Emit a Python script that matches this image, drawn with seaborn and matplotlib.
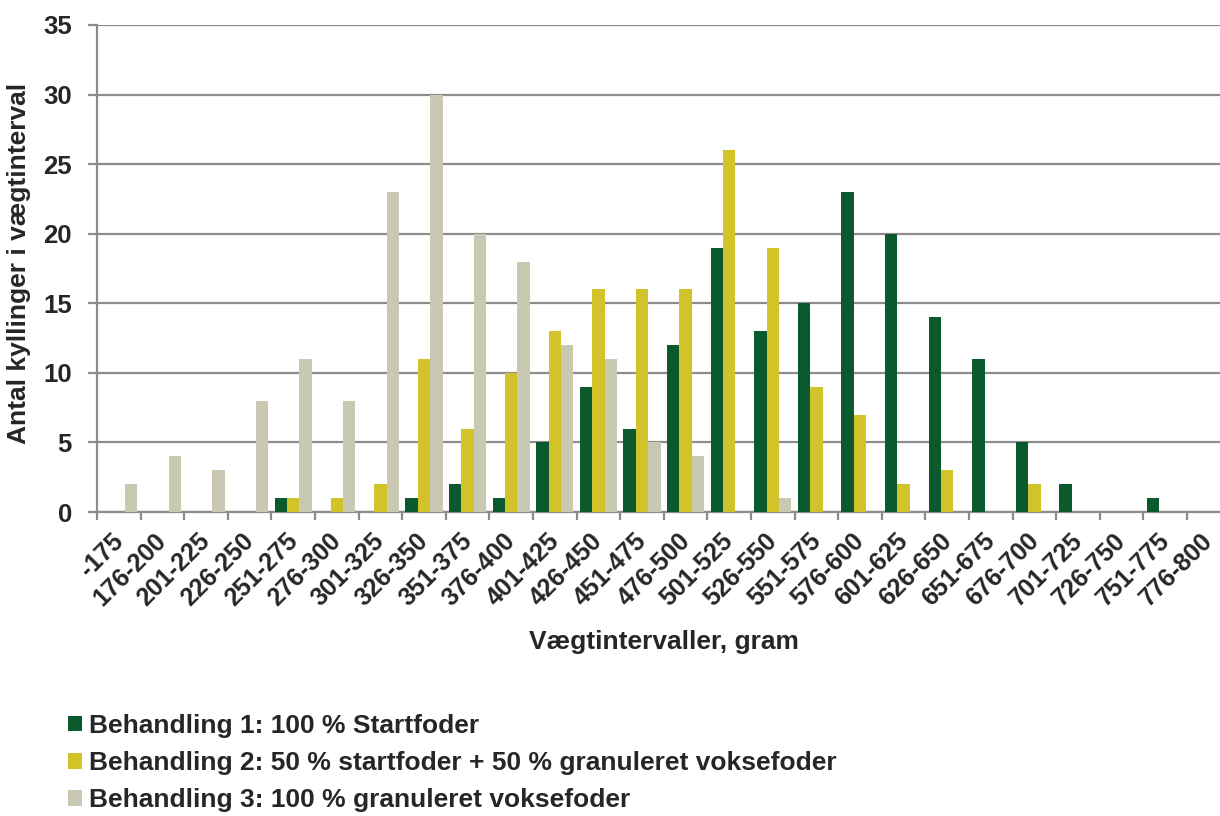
import matplotlib
matplotlib.use("Agg")
import matplotlib.pyplot as plt
import matplotlib.transforms as mtransforms
import seaborn as sns
import pandas as pd
from matplotlib.patches import Patch

# Weight intervals (gram)
intervals = ["-175", "176-200", "201-225", "226-250", "251-275", "276-300",
             "301-325", "326-350", "351-375", "376-400", "401-425", "426-450",
             "451-475", "476-500", "501-525", "526-550", "551-575", "576-600",
             "601-625", "626-650", "651-675", "676-700", "701-725", "726-750",
             "751-775", "776-800"]

# Number of chickens per interval for each treatment
behandling_1 = [0, 0, 0, 0, 1, 0, 0, 1, 2, 1, 5, 9, 6, 12, 19, 13, 15, 23,
                20, 14, 11, 5, 2, 0, 1, 0]
behandling_2 = [0, 0, 0, 0, 1, 1, 2, 11, 6, 10, 13, 16, 16, 16, 26, 19, 9, 7,
                2, 3, 0, 2, 0, 0, 0, 0]
behandling_3 = [2, 4, 3, 8, 11, 8, 23, 30, 20, 18, 12, 11, 5, 4, 0, 1, 0, 0,
                0, 0, 0, 0, 0, 0, 0, 0]

series_names = ["Behandling 1: 100 % Startfoder",
                "Behandling 2: 50 % startfoder + 50 % granuleret voksefoder",
                "Behandling 3: 100 % granuleret voksefoder"]
colors = ["#0b5a2e", "#d2c32a", "#c8c8b3"]

rows = []
for name, vals in zip(series_names, [behandling_1, behandling_2, behandling_3]):
    for iv, v in zip(intervals, vals):
        rows.append({"interval": iv, "antal": v, "behandling": name})
df = pd.DataFrame(rows)

sns.set_theme(style="white")
plt.rcParams["font.family"] = ["Liberation Sans", "DejaVu Sans"]
plt.rcParams["font.weight"] = "bold"

text_color = "#262626"
grid_color = "#8c8c8c"
tick_fs = 18
label_fs = 19
legend_fs = 19

W, H = 1220, 816
fig = plt.figure(figsize=(W / 100, H / 100), dpi=100)
cat_w = 43.6
ax_w = 26 * cat_w
ax = fig.add_axes([97 / W, (H - 512) / H, ax_w / W, 487 / H])

sns.barplot(data=df, x="interval", y="antal", hue="behandling",
            hue_order=series_names, order=intervals, palette=colors,
            width=0.857, linewidth=0, saturation=1, legend=False, ax=ax,
            zorder=3)

ax.set_ylim(0, 35)
ax.set_xlim(-0.5, len(intervals) - 0.5)
ax.set_yticks(range(0, 36, 5))
ax.yaxis.grid(True, color=grid_color, linewidth=1.6, zorder=0)
ax.set_axisbelow(True)

for side in ["top", "right"]:
    ax.spines[side].set_visible(False)
for side in ["left", "bottom"]:
    ax.spines[side].set_color(grid_color)
    ax.spines[side].set_linewidth(1.6)

# Category boundaries carry the tick marks, centres carry the labels
ax.set_xticks([i - 0.5 for i in range(len(intervals) + 1)])
ax.set_xticklabels([])
ax.set_xticks(range(len(intervals)), minor=True)
ax.set_xticklabels(intervals, minor=True, rotation=45, ha="right",
                   rotation_mode="anchor", fontsize=tick_fs, fontweight="bold",
                   color=text_color)
ax.tick_params(axis="x", which="major", length=6, width=1.6, color=grid_color,
               direction="out", bottom=True)
ax.tick_params(axis="x", which="minor", length=0, pad=12)
ax.tick_params(axis="y", length=6.5, width=1.6, color=grid_color, left=True,
               labelsize=18.5, labelcolor=text_color, pad=11.5)
for lbl in ax.get_yticklabels():
    lbl.set_fontweight("bold")

# Nudge the slanted interval labels so their ends sit at the bar groups
shift = mtransforms.ScaledTranslation(-8 / 100, 0, fig.dpi_scale_trans)
for lbl in ax.get_xticklabels(minor=True):
    lbl.set_transform(lbl.get_transform() + shift)

ax.set_xlabel("Vægtintervaller, gram", fontsize=label_fs, fontweight="bold",
              color=text_color, labelpad=14)
ax.set_ylabel("Antal kyllinger i vægtinterval", fontsize=label_fs,
              fontweight="bold", color=text_color)
ax.yaxis.set_label_coords((31 - 97) / ax_w, 0.51)

handles = [Patch(facecolor=c, edgecolor="none") for c in colors]
fig.legend(handles, series_names, loc="upper left",
           bbox_to_anchor=(68 / W, 1 - 714 / H), frameon=False,
           prop={"size": legend_fs, "weight": "bold"}, labelcolor=text_color,
           handlelength=0.53, handleheight=0.53, handletextpad=0.28,
           labelspacing=0.5, borderaxespad=0, borderpad=0)

fig.savefig("out.png", dpi=100)
